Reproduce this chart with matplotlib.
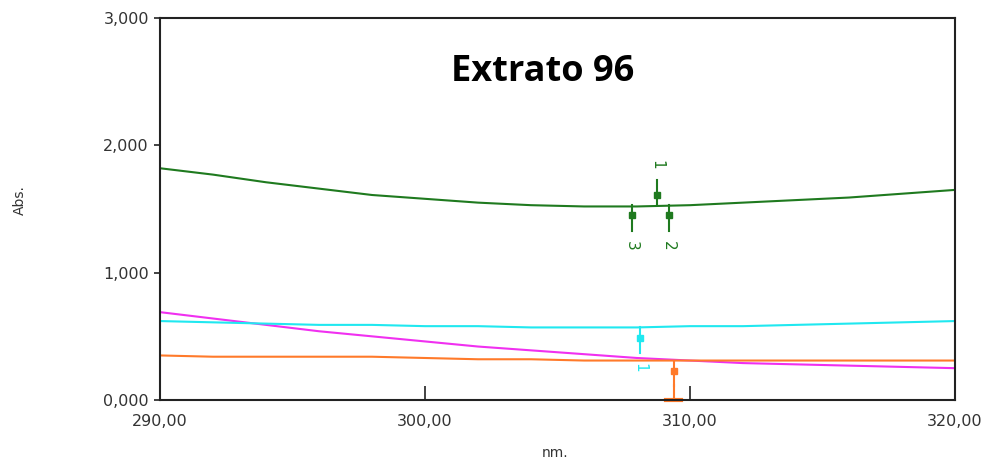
import matplotlib
matplotlib.use("Agg")
import matplotlib.pyplot as plt

# wavelength grid (nm) and absorbance of each trace
wavelength = [290, 292, 294, 296, 298, 300, 302, 304, 306, 308, 310, 312, 314, 316, 318, 320]
green_abs = [1.82, 1.77, 1.71, 1.66, 1.61, 1.58, 1.55, 1.53, 1.52, 1.52, 1.53, 1.55, 1.57, 1.59, 1.62, 1.65]
cyan_abs = [0.62, 0.61, 0.60, 0.59, 0.59, 0.58, 0.58, 0.57, 0.57, 0.57, 0.58, 0.58, 0.59, 0.60, 0.61, 0.62]
magenta_abs = [0.69, 0.64, 0.59, 0.54, 0.50, 0.46, 0.42, 0.39, 0.36, 0.33, 0.31, 0.29, 0.28, 0.27, 0.26, 0.25]
orange_abs = [0.35, 0.34, 0.34, 0.34, 0.34, 0.33, 0.32, 0.32, 0.31, 0.31, 0.31, 0.31, 0.31, 0.31, 0.31, 0.31]

# peak / valley picks: (wavelength, absorbance, label, direction)
green_picks = [(308.75, 1.53, "1", 1), (309.2, 1.53, "2", -1), (307.8, 1.53, "3", -1)]
cyan_picks = [(308.1, 0.57, "1", -1)]
orange_picks = [(309.4, 0.31, "", -1)]

GREEN = "#1f7a1f"
CYAN = "#20e8f0"
MAGENTA = "#f030f0"
ORANGE = "#ff7a2a"

fig = plt.figure(figsize=(9.89, 4.66), dpi=100)
ax = fig.add_axes([0.1618, 0.1416, 0.8038, 0.8198])

ax.plot(wavelength, magenta_abs, color=MAGENTA, lw=1.5)
ax.plot(wavelength, cyan_abs, color=CYAN, lw=1.5)
ax.plot(wavelength, orange_abs, color=ORANGE, lw=1.5)
ax.plot(wavelength, green_abs, color=GREEN, lw=1.5)


def draw_picks(picks, color):
    for wl, val, label, d in picks:
        ax.plot([wl, wl], [val, val + d * 0.2], color=color, lw=1.5)
        ax.plot(wl, val + d * 0.08, marker="s", ms=4, color=color)
        if label:
            ax.text(wl, val + d * 0.32, label, color=color, rotation=-90,
                    ha="center", va="center", fontsize=11)


draw_picks(green_picks, GREEN)
draw_picks(cyan_picks, CYAN)
draw_picks(orange_picks, ORANGE)
# orange pick continues down to the axis
ax.plot([309.4, 309.4], [0.12, 0.0], color=ORANGE, lw=1.5)
ax.plot([309.1, 309.65], [0.003, 0.003], color=ORANGE, lw=3, clip_on=False)

ax.set_xlim(290, 320)
ax.set_ylim(0, 3)
ax.set_xticks([290, 300, 310, 320])
ax.set_xticklabels(["290,00", "300,00", "310,00", "320,00"])
ax.set_yticks([0, 1, 2, 3])
ax.set_yticklabels(["0,000", "1,000", "2,000", "3,000"])
ax.tick_params(labelsize=11.5, labelcolor="#333333", color="#222222", width=1.2)
ax.tick_params(axis="x", direction="in", length=10, pad=10)
ax.tick_params(axis="y", direction="out", length=4, pad=4)
for s in ax.spines.values():
    s.set_linewidth(1.5)
    s.set_color("#222222")

fig.text(20 / 989, 1 - 200 / 466, "Abs.", rotation=90, ha="center", va="center",
         fontsize=10, color="#333333")
fig.text(555 / 989, 1 - 453 / 466, "nm.", ha="center", va="center",
         fontsize=10, color="#333333")
fig.text(543 / 989, 1 - 72 / 466, "Extrato 96", ha="center", va="center",
         fontsize=26, fontweight="bold", family="Open Sans")

fig.savefig("out.png", dpi=100)
